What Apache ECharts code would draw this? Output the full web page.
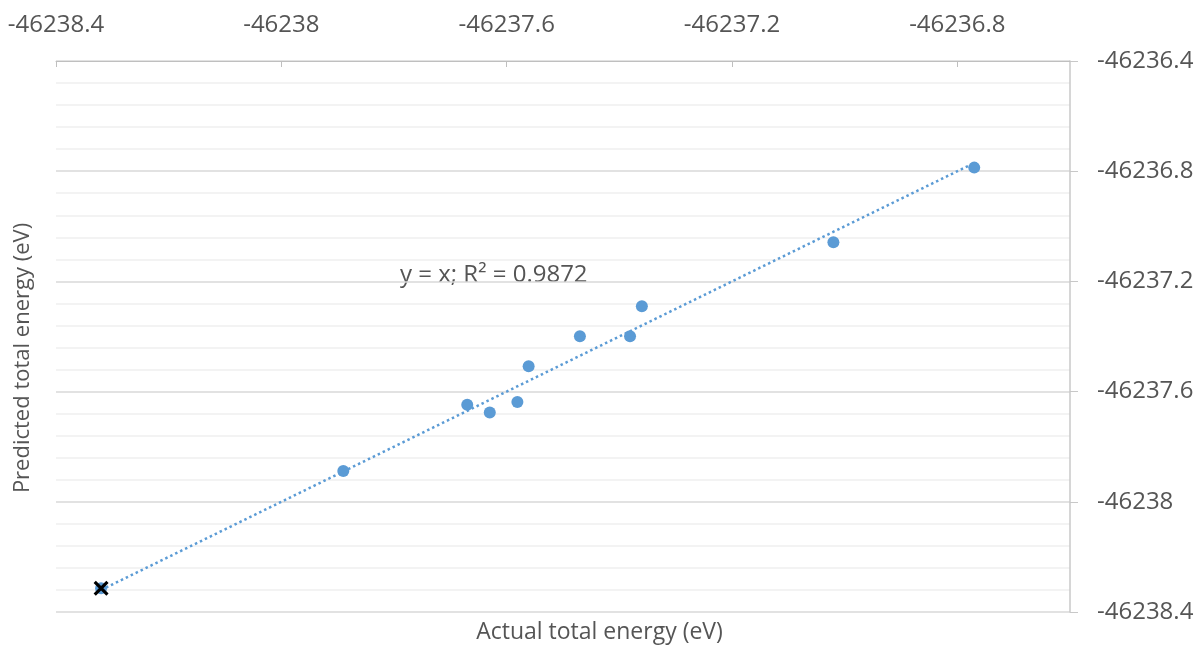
<!DOCTYPE html>
<html>
<head>
<meta charset="utf-8">
<script src="https://cdn.jsdelivr.net/npm/echarts@6/dist/echarts.min.js"></script>
<style>
  html, body { margin: 0; padding: 0; background: #fff; }
  #chart { width: 1199px; height: 658px; }
</style>
</head>
<body>
<div id="chart"></div>
<script>
// actual vs predicted total energy (eV)
var actualEnergy    = [-46236.770, -46237.020, -46237.360, -46237.470, -46237.381, -46237.561, -46237.670, -46237.630, -46237.581, -46237.890];
var predictedEnergy = [-46236.787, -46237.058, -46237.290, -46237.399, -46237.399, -46237.508, -46237.648, -46237.676, -46237.638, -46237.888];
// the point marked with a cross
var crossPoint = [-46238.320, -46238.314];
// trendline y = x, from the lowest to the highest point
var trendX = [-46238.320, -46236.775];
var trendLabel = 'y = x; R² = 0.9872';
var xTitle = 'Actual total energy (eV)';
var yTitle = 'Predicted total energy (eV)';

var points = actualEnergy.map(function (x, i) { return [x, predictedEnergy[i]]; });
points.push(crossPoint.slice());
var trendData = trendX.map(function (x) { return [x, x]; });

var FONT = 'Open Sans';
var GREY = '#555555';
var BLUE = '#5b9bd5';

function fmt(v) { return String(parseFloat(v.toFixed(1))); }

var myChart = echarts.init(document.getElementById('chart'));
myChart.setOption({
  animation: false,
  backgroundColor: '#fff',
  grid: { left: 56, right: 129, top: 61, bottom: 46 },
  xAxis: {
    type: 'value',
    position: 'top',
    min: -46238.4,
    max: -46236.6,
    interval: 0.4,
    axisLine: { show: true, lineStyle: { color: '#bfbfbf', width: 1 } },
    axisTick: { show: true, inside: true, length: 6, lineStyle: { color: '#bfbfbf' } },
    axisLabel: {
      margin: 24, color: GREY, fontFamily: FONT, fontSize: 24,
      showMaxLabel: false, formatter: fmt
    },
    splitLine: { show: false }
  },
  yAxis: {
    type: 'value',
    position: 'right',
    min: -46238.4,
    max: -46236.4,
    interval: 0.4,
    axisLine: { show: true, lineStyle: { color: '#c8c8c8', width: 1.5 } },
    axisTick: { show: true, inside: false, length: 8, lineStyle: { color: '#c8c8c8' } },
    axisLabel: {
      margin: 27, color: GREY, fontFamily: FONT, fontSize: 24,
      align: 'left', formatter: fmt
    },
    splitLine: { show: true, lineStyle: { color: '#d9d9d9', width: 1.5 } },
    minorTick: { show: false, splitNumber: 5 },
    minorSplitLine: { show: true, lineStyle: { color: '#efefef', width: 1.5 } }
  },
  graphic: [
    {
      type: 'text', left: 'center', x: 0, top: 621,
      style: { text: xTitle, fill: GREY, font: '23px "Open Sans"' }
    },
    {
      type: 'text', x: 12, y: 358, rotation: Math.PI / 2,
      style: { text: yTitle, fill: GREY, font: '22px "Open Sans"', align: 'center', verticalAlign: 'top' }
    },
    {
      type: 'text', x: 400, y: 275,
      style: { text: trendLabel, fill: GREY, font: '24px "Open Sans"', verticalAlign: 'middle' }
    }
  ],
  series: [
    {
      name: 'trend',
      type: 'line',
      data: trendData,
      showSymbol: false,
      silent: true,
      lineStyle: { color: BLUE, width: 2.5, type: [2.5, 3] },
      z: 2
    },
    {
      name: 'energy',
      type: 'scatter',
      data: points,
      symbol: 'circle',
      symbolSize: 12,
      itemStyle: { color: BLUE, opacity: 1 },
      z: 3
    },
    {
      name: 'cross',
      type: 'scatter',
      data: [crossPoint],
      symbol: 'path://M0,1.5L1.5,0L5,3.5L8.5,0L10,1.5L6.5,5L10,8.5L8.5,10L5,6.5L1.5,10L0,8.5L3.5,5Z',
      symbolSize: 15,
      itemStyle: { color: '#000', opacity: 1 },
      z: 4
    }
  ]
});

window.addEventListener('resize', function () {
  myChart.resize();
});
</script>
</body>
</html>
